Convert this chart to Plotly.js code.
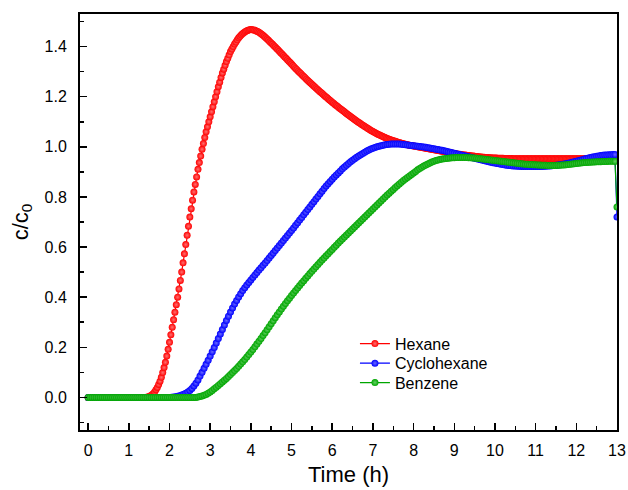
<!DOCTYPE html>
<html>
<head>
<meta charset="utf-8">
<script src="https://cdn.plot.ly/plotly-3.0.1.min.js"></script>
<style>html,body{margin:0;padding:0;background:#fff}#chart{width:628px;height:490px}</style>
</head>
<body>
<div id="chart"></div>
<script>
// Series names
const seriesNames = ["Hexane", "Cyclohexane", "Benzene"];

// Hexane: sampled every 2 min (1/30 h) from t = 0 h, one row per hour
const hexane = [
0,0,0,0,0,0,0,0,0,0,0,0,0,0,0,0,0,0,0,0,0,0,0,0,0,0,0,0,0,0,
0,0,0,0,0,0,0,0,0,0,0,0,0,0.001,0.002,0.004,0.007,0.011,0.015,0.022,0.031,0.04,0.052,0.065,0.08,0.099,0.119,0.14,0.165,0.192,
0.22,0.25,0.28,0.31,0.34,0.37,0.40,0.433,0.467,0.50,0.537,0.573,0.61,0.647,0.683,0.72,0.753,0.787,0.82,0.85,0.88,0.91,0.937,0.963,0.99,1.013,1.037,1.06,1.08,1.10,
1.12,1.14,1.16,1.18,1.20,1.22,1.24,1.258,1.277,1.295,1.31,1.325,1.34,1.353,1.367,1.38,1.39,1.40,1.41,1.418,1.427,1.435,1.441,1.447,1.452,1.456,1.46,1.463,1.465,1.467,
1.468,1.467,1.466,1.465,1.462,1.46,1.457,1.453,1.449,1.445,1.44,1.435,1.43,1.425,1.419,1.414,1.409,1.403,1.398,1.392,1.387,1.381,1.375,1.37,1.364,1.358,1.353,1.347,1.341,1.336,
1.33,1.324,1.319,1.313,1.308,1.302,1.297,1.292,1.286,1.281,1.276,1.27,1.265,1.26,1.255,1.25,1.245,1.24,1.235,1.23,1.225,1.22,1.216,1.211,1.206,1.201,1.197,1.192,1.187,1.183,
1.178,1.174,1.169,1.165,1.161,1.156,1.152,1.148,1.144,1.14,1.135,1.131,1.127,1.123,1.119,1.115,1.111,1.107,1.103,1.099,1.096,1.092,1.088,1.085,1.081,1.078,1.074,1.071,1.067,1.064,
1.061,1.058,1.055,1.052,1.049,1.047,1.044,1.042,1.039,1.037,1.034,1.032,1.03,1.028,1.026,1.024,1.023,1.021,1.019,1.017,1.016,1.014,1.013,1.011,1.01,1.009,1.007,1.006,1.005,1.004,
1.003,1.002,1.001,1.0,0.999,0.998,0.997,0.996,0.995,0.994,0.993,0.992,0.991,0.99,0.989,0.988,0.987,0.986,0.985,0.984,0.983,0.982,0.981,0.98,0.979,0.978,0.977,0.976,0.975,0.974,
0.973,0.972,0.971,0.97,0.97,0.969,0.968,0.967,0.967,0.966,0.965,0.965,0.964,0.963,0.963,0.962,0.961,0.961,0.96,0.959,0.959,0.958,0.958,0.957,0.957,0.956,0.956,0.956,0.955,0.955,
0.955,0.955,0.954,0.954,0.954,0.954,0.954,0.953,0.953,0.953,0.953,0.953,0.953,0.952,0.952,0.952,0.952,0.952,0.952,0.952,0.952,0.952,0.952,0.952,0.952,0.952,0.952,0.952,0.952,0.952,
0.952,0.952,0.952,0.952,0.952,0.952,0.952,0.952,0.952,0.952,0.952,0.952,0.952,0.952,0.952,0.952,0.952,0.952,0.952,0.952,0.952,0.952,0.952,0.952,0.952,0.952,0.952,0.952,0.952,0.952,
0.952,0.952,0.952,0.952,0.952,0.952,0.952,0.952,0.952,0.952,0.952,0.952,0.952,0.952,0.952,0.952,0.952,0.952,0.952,0.952,0.952,0.952,0.952,0.952,0.952,0.952,0.952,0.952,0.952,0.952,
0.952
];

// Cyclohexane: sampled every 3 min (0.05 h) from t = 0 h, one row per hour
const cyclohexane = [
0,0,0,0,0,0,0,0,0,0,0,0,0,0,0,0,0,0,0,0,
0,0,0,0,0,0,0,0,0,0,0,0,0,0,0,0,0,0,0,0,
0,0.001,0.002,0.003,0.005,0.007,0.01,0.013,0.017,0.022,0.028,0.036,0.046,0.057,0.07,0.085,0.1,0.116,0.132,0.148,
0.165,0.182,0.199,0.217,0.235,0.253,0.271,0.289,0.307,0.324,0.341,0.357,0.373,0.387,0.401,0.414,0.427,0.438,0.449,0.459,
0.469,0.479,0.489,0.498,0.508,0.517,0.527,0.536,0.546,0.556,0.566,0.576,0.586,0.596,0.606,0.616,0.626,0.636,0.646,0.656,
0.666,0.676,0.687,0.697,0.708,0.718,0.729,0.739,0.75,0.76,0.771,0.781,0.792,0.802,0.813,0.823,0.834,0.844,0.853,0.862,
0.871,0.88,0.888,0.896,0.904,0.912,0.919,0.926,0.933,0.94,0.946,0.952,0.958,0.963,0.968,0.973,0.978,0.983,0.987,0.991,
0.994,0.997,1.0,1.002,1.004,1.006,1.008,1.009,1.01,1.011,1.011,1.011,1.011,1.011,1.01,1.009,1.008,1.007,1.006,1.005,
1.004,1.003,1.002,1.001,1.0,0.999,0.998,0.996,0.995,0.993,0.992,0.99,0.989,0.987,0.986,0.984,0.982,0.98,0.978,0.976,
0.974,0.972,0.97,0.968,0.966,0.964,0.962,0.96,0.958,0.956,0.954,0.952,0.95,0.948,0.946,0.944,0.942,0.94,0.938,0.936,
0.935,0.933,0.932,0.93,0.929,0.927,0.926,0.925,0.924,0.923,0.923,0.922,0.922,0.921,0.921,0.921,0.921,0.921,0.921,0.921,
0.921,0.921,0.921,0.921,0.922,0.922,0.923,0.923,0.924,0.925,0.926,0.927,0.928,0.929,0.931,0.932,0.934,0.936,0.938,0.94,
0.942,0.944,0.946,0.948,0.951,0.953,0.955,0.957,0.959,0.96,0.962,0.963,0.965,0.966,0.967,0.967,0.968,0.968,0.969,0.969,
0.72
];

// Benzene: sampled every 3 min (0.05 h) from t = 0 h, one row per hour
const benzene = [
0,0,0,0,0,0,0,0,0,0,0,0,0,0,0,0,0,0,0,0,
0,0,0,0,0,0,0,0,0,0,0,0,0,0,0,0,0,0,0,0,
0,0,0,0,0,0,0,0,0,0,0,0,0,0,0.002,0.004,0.006,0.009,0.012,0.017,
0.022,0.028,0.035,0.041,0.048,0.055,0.062,0.069,0.076,0.083,0.091,0.099,0.107,0.115,0.124,0.133,0.142,0.151,0.161,0.171,
0.181,0.191,0.202,0.213,0.224,0.235,0.247,0.258,0.27,0.282,0.294,0.306,0.318,0.33,0.341,0.353,0.364,0.375,0.386,0.396,
0.407,0.417,0.427,0.437,0.447,0.457,0.466,0.476,0.485,0.494,0.503,0.512,0.521,0.53,0.539,0.548,0.556,0.565,0.573,0.582,
0.59,0.599,0.607,0.616,0.624,0.632,0.64,0.648,0.656,0.664,0.672,0.68,0.688,0.696,0.704,0.712,0.72,0.728,0.736,0.744,
0.752,0.76,0.768,0.776,0.784,0.792,0.8,0.808,0.815,0.823,0.83,0.838,0.845,0.852,0.859,0.866,0.872,0.878,0.884,0.89,
0.896,0.902,0.908,0.913,0.918,0.923,0.927,0.931,0.935,0.939,0.942,0.945,0.947,0.949,0.951,0.952,0.953,0.954,0.955,0.956,
0.956,0.957,0.957,0.957,0.957,0.957,0.957,0.956,0.956,0.955,0.955,0.954,0.953,0.952,0.951,0.95,0.949,0.948,0.947,0.946,
0.945,0.944,0.943,0.942,0.941,0.94,0.939,0.938,0.937,0.936,0.935,0.934,0.933,0.932,0.931,0.93,0.93,0.929,0.929,0.928,
0.928,0.927,0.927,0.926,0.926,0.926,0.925,0.925,0.925,0.925,0.925,0.926,0.926,0.927,0.927,0.928,0.929,0.93,0.931,0.932,
0.933,0.934,0.935,0.936,0.937,0.937,0.938,0.938,0.939,0.939,0.94,0.94,0.94,0.941,0.941,0.941,0.942,0.942,0.942,0.942,
0.76
];

// Axis tick labels
const xTickVals = [0,1,2,3,4,5,6,7,8,9,10,11,12,13];
const xTickText = ["0","1","2","3","4","5","6","7","8","9","10","11","12","13"];
const yTickVals = [0,0.2,0.4,0.6,0.8,1.0,1.2,1.4];
const yTickText = ["0.0","0.2","0.4","0.6","0.8","1.0","1.2","1.4"];

const FONT = "Liberation Sans, Arial, sans-serif";

function mk(name, y, dx, color, center, legendId) {
  return {
    type: "scatter",
    mode: "lines+markers",
    name: name,
    legend: legendId,
    x0: 0,
    dx: dx,
    y: y,
    line: {color: color, width: 1.2},
    marker: {
      symbol: "circle",
      size: 7,
      color: color,
      line: {width: 0},
      gradient: {type: "radial", color: center}
    }
  };
}

const data = [
  mk(seriesNames[0], hexane, 1/30, "#ff0000", "#ff7070", "legend"),
  mk(seriesNames[1], cyclohexane, 0.05, "#0000ff", "#6a6aff", "legend2"),
  mk(seriesNames[2], benzene, 0.05, "#00a600", "#66cf66", "legend3")
];

function leg(yTop) {
  return {
    x: 0.512, y: yTop, xanchor: "left", yanchor: "top",
    bgcolor: "rgba(0,0,0,0)",
    borderwidth: 0,
    font: {family: FONT, size: 16, color: "#000"},
    itemwidth: 30
  };
}

const axisBase = {
  tickmode: "array",
  ticks: "inside",
  ticklen: 7,
  tickwidth: 1.5,
  tickcolor: "#000",
  showline: true,
  linecolor: "#000",
  linewidth: 2,
  mirror: true,
  showgrid: false,
  zeroline: false,
  tickfont: {family: FONT, size: 16, color: "#000"}
};

const layout = {
  width: 628,
  height: 490,
  margin: {l: 80, r: 11, t: 14, b: 60},
  paper_bgcolor: "#ffffff",
  plot_bgcolor: "#ffffff",
  font: {family: FONT, size: 16, color: "#000"},
  showlegend: true,
  legend: leg(0.2483),
  legend2: leg(0.2012),
  legend3: leg(0.1546),
  xaxis: Object.assign({}, axisBase, {
    range: [-0.2, 13],
    tickvals: xTickVals,
    ticktext: xTickText,
    ticklabelstandoff: 5,
    minor: {ticks: "inside", dtick: 0.5, tick0: 0, ticklen: 4, tickwidth: 1.5, tickcolor: "#000"},
    title: {text: "Time (h)", font: {family: FONT, size: 22, color: "#000"}, standoff: 8}
  }),
  yaxis: Object.assign({}, axisBase, {
    range: [-0.13, 1.53],
    tickvals: yTickVals,
    ticktext: yTickText,
    ticklabelstandoff: 8,
    minor: {ticks: "inside", dtick: 0.1, tick0: 0, ticklen: 4, tickwidth: 1.5, tickcolor: "#000"},
    title: {text: "c/c<sub>0</sub>", font: {family: FONT, size: 22, color: "#000"}, standoff: 10}
  })
};

Plotly.newPlot("chart", data, layout, {displayModeBar: false, staticPlot: true});
</script>
</body>
</html>
